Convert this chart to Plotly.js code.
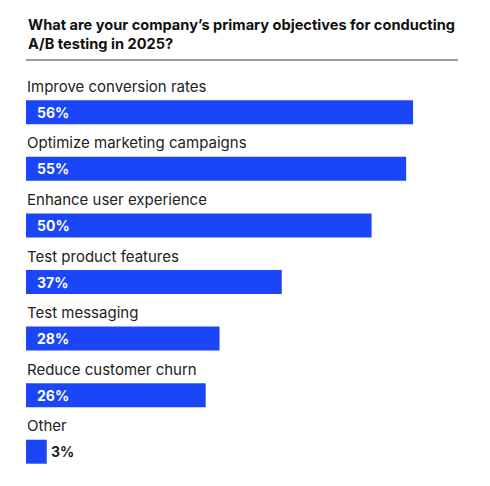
<!DOCTYPE html>
<html>
<head>
<meta charset="utf-8">
<script src="https://cdn.plot.ly/plotly-3.0.1.min.js"></script>
<style>
  html, body { margin: 0; padding: 0; background: #fff; }
  #chart { width: 490px; height: 486px; }
</style>
</head>
<body>
<div id="chart"></div>
<script>
const chart_id = "chart";

// survey answers, top to bottom
const categories = [
  "Improve conversion rates",
  "Optimize marketing campaigns",
  "Enhance user experience",
  "Test product features",
  "Test messaging",
  "Reduce customer churn",
  "Other"
];
const shares = [56, 55, 50, 37, 28, 26, 3];
const valueLabels = ["56%", "55%", "50%", "37%", "28%", "26%", "3%"];

const blue = "#1b46f8";
const font = "Inter, 'Open Sans', sans-serif";

function init() {
  var data = [{
    type: "bar",
    orientation: "h",
    y: categories,
    x: shares,
    marker: { color: blue },
    hoverinfo: "none"
  }];

  // category names sit above each bar
  var annotations = categories.map(function (c) {
    return {
      x: 0, y: c, xref: "x", yref: "y",
      text: c, showarrow: false,
      xanchor: "left", yanchor: "middle",
      yshift: 26, xshift: -1,
      font: { family: font, size: 15, color: "#222" }
    };
  });

  // values: white inside the bar, dark beside it when the bar is short
  shares.forEach(function (v, i) {
    var inside = v >= 10;
    annotations.push({
      x: inside ? 0 : v, y: categories[i], xref: "x", yref: "y",
      text: "<b>" + valueLabels[i] + "</b>", showarrow: false,
      xanchor: "left", yanchor: "middle",
      xshift: inside ? 9 : 2, yshift: 0,
      font: { family: font, size: 14, color: inside ? "#fff" : "#222" }
    });
  });

  annotations.push({
    xref: "paper", yref: "paper", x: 0, y: 1,
    xanchor: "left", yanchor: "bottom",
    yshift: 29, xshift: 0,
    align: "left",
    text: "<b>What are your company’s primary objectives for conducting<br>A/B testing in 2025?</b>",
    showarrow: false,
    font: { family: font, size: 14.6, color: "#111" }
  });

  var layout = {
    width: 490,
    height: 486,
    margin: { l: 26, r: 32, t: 83.7, b: 5.7 },
    paper_bgcolor: "#fff",
    plot_bgcolor: "#fff",
    showlegend: false,
    bargap: 0.576,
    xaxis: {
      range: [0, 62.5],
      visible: false,
      fixedrange: true
    },
    yaxis: {
      type: "category",
      range: [6.5, -0.5],
      visible: false,
      fixedrange: true
    },
    // rule under the question
    shapes: [{
      type: "line", xref: "paper", yref: "paper",
      x0: 0, x1: 1, y0: 24, y1: 24,
      ysizemode: "pixel", yanchor: 1,
      line: { color: "#7a7a7a", width: 1.5 }
    }],
    annotations: annotations
  };

  Plotly.newPlot(chart_id, data, layout, { staticPlot: true });
}

init();
</script>
</body>
</html>
